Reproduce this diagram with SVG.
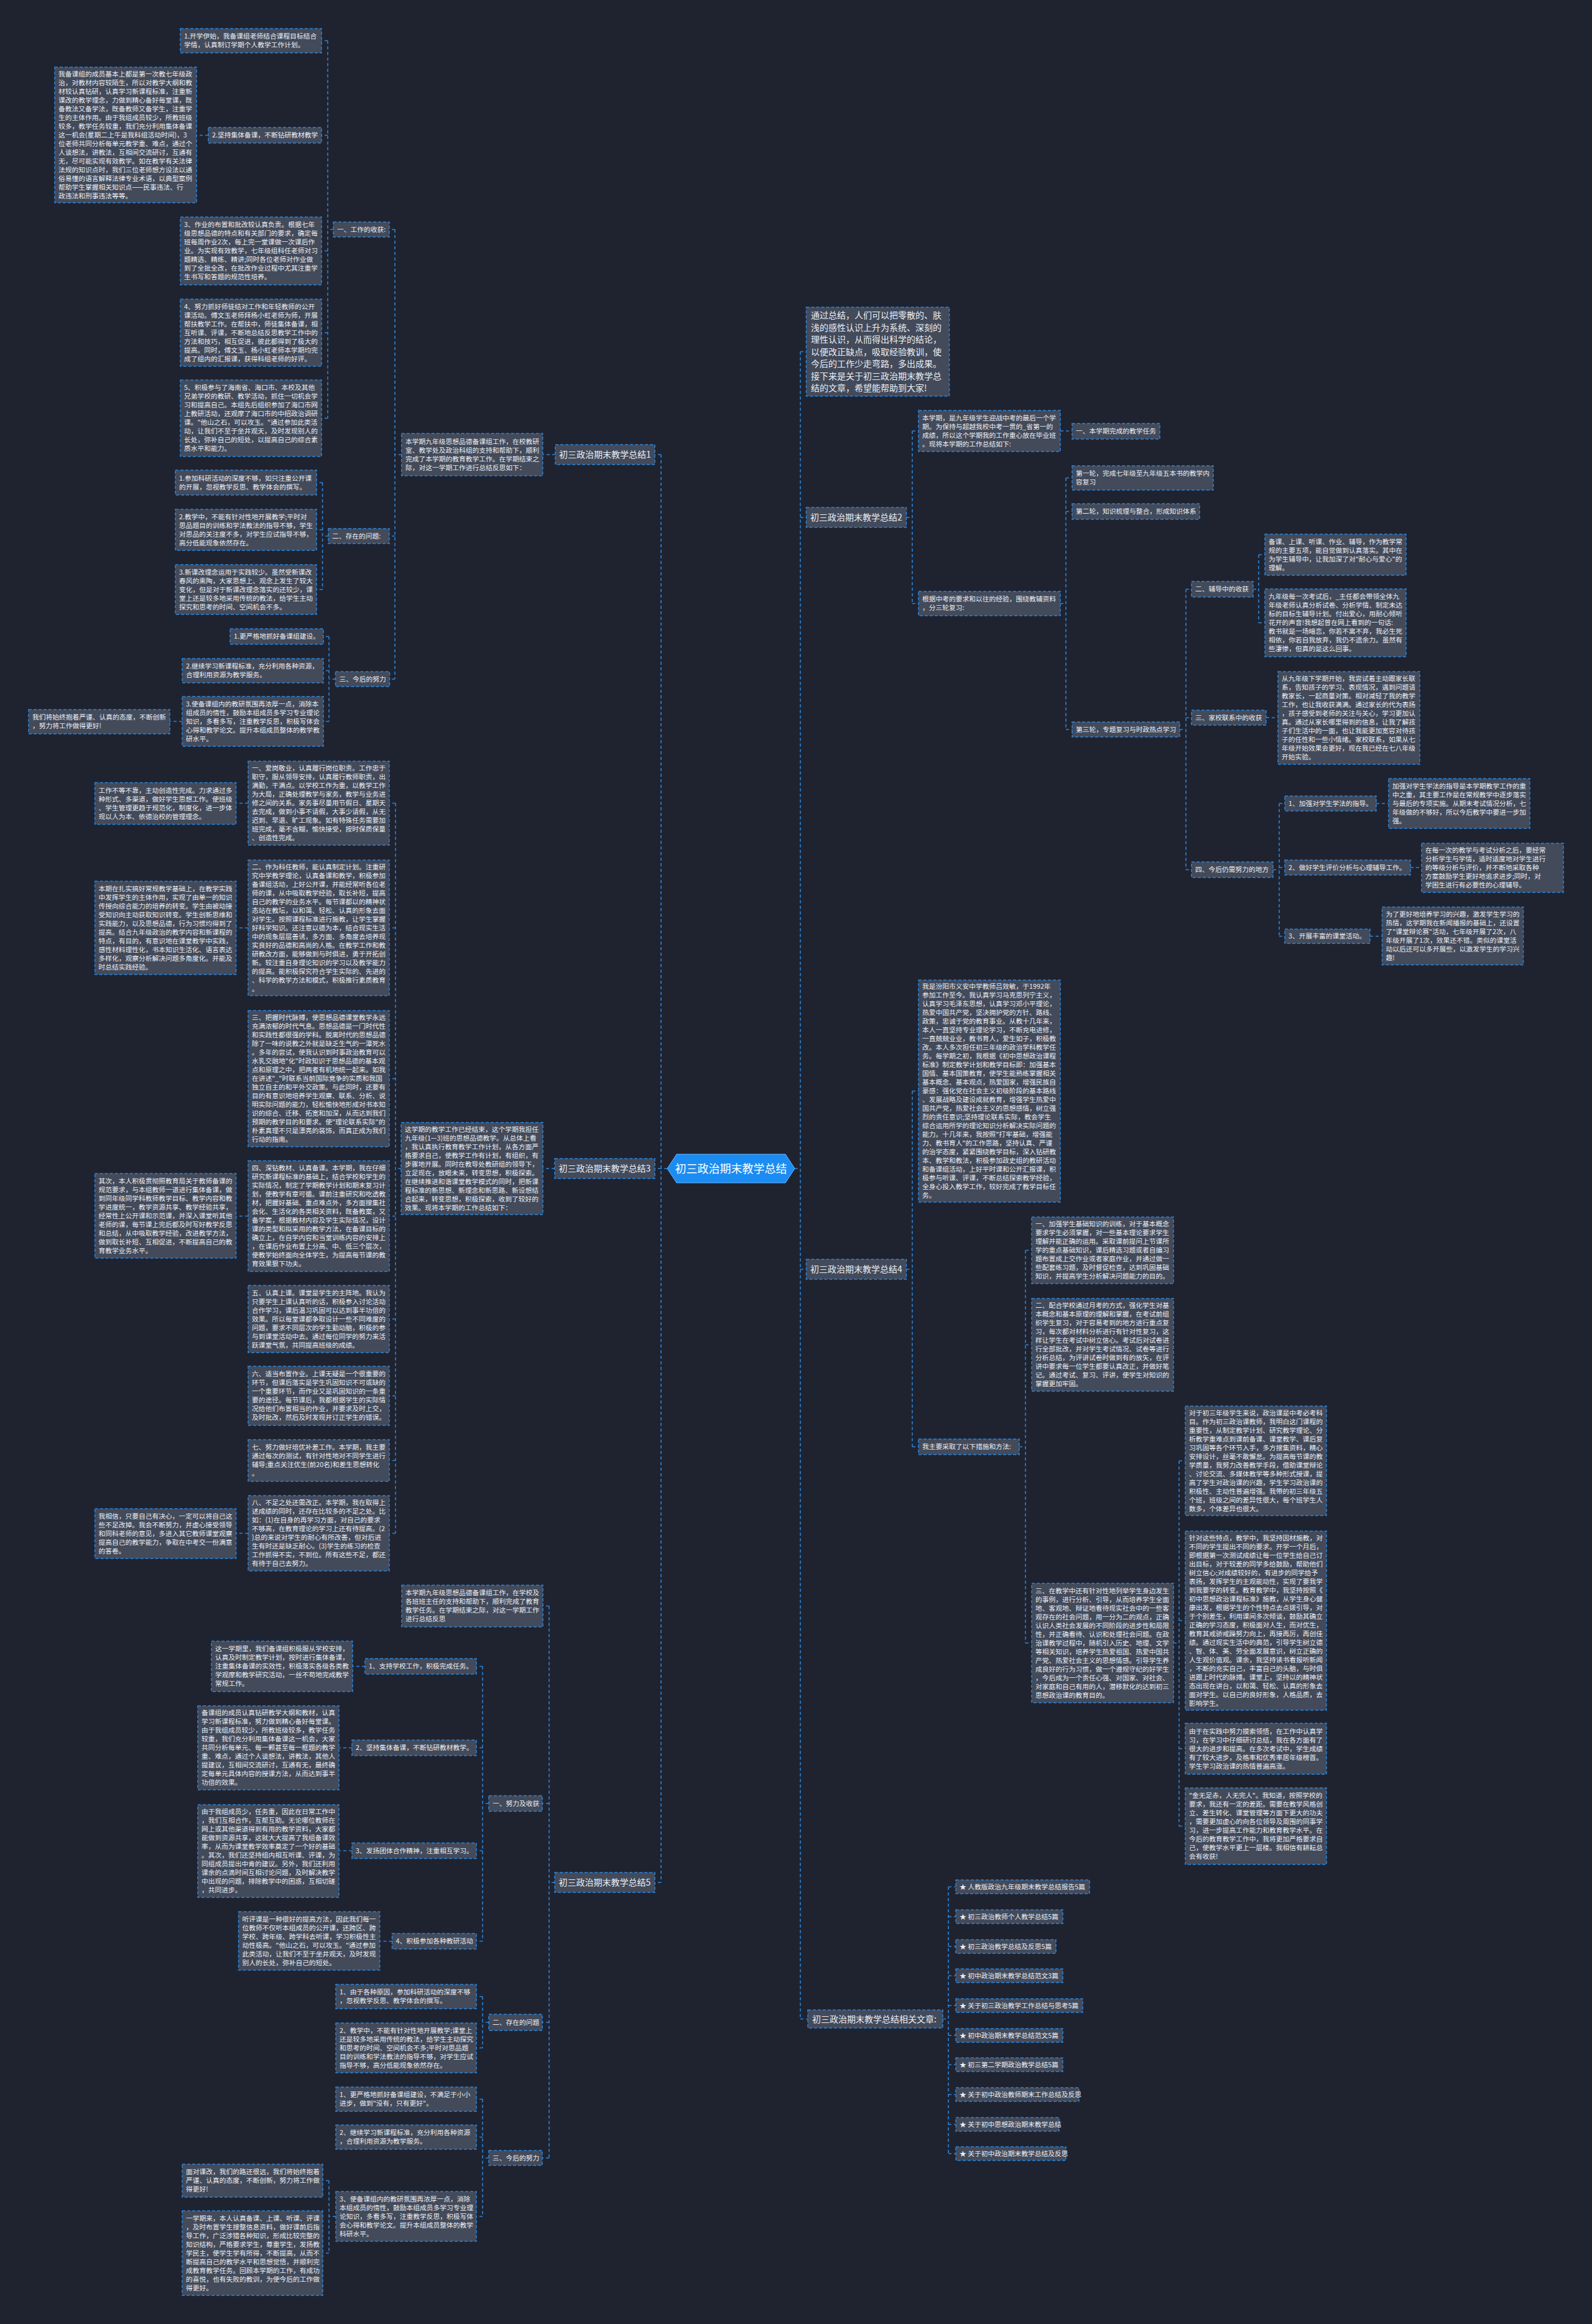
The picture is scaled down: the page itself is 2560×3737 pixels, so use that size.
<svg xmlns="http://www.w3.org/2000/svg" width="2560" height="3737" viewBox="0 0 2560 3737">
<style>
.bg{fill:#1f2330}
.n{fill:#434a5a;stroke:#2b84d8;stroke-width:1.5;stroke-dasharray:5 3}
.t{font-family:"Noto Sans CJK SC","Noto Sans",sans-serif;font-size:10.75px;fill:#eceff4}
.lg{font-size:14px}
.c{fill:none;stroke:#2b84d8;stroke-width:1.6;stroke-dasharray:5 4}
.root{fill:#1b8cf2;stroke:#6fb8ff;stroke-width:1}
.rt{font-family:"Noto Sans CJK SC","Noto Sans",sans-serif;font-size:18px;fill:#ffffff}
</style>
<rect class="bg" x="0" y="0" width="2560" height="3737"/>

<g id="connectors">
<path class="c" d="M1073,1879 H1063 M1063,731 V3027 M1063,731 H1053 M1063,1879 H1053 M1063,3027 H1053"/>
<path class="c" d="M893,731 H872.7"/>
<path class="c" d="M645.7,731 H635 M635,369 V1092 M635,369 H626 M635,862 H626 M635,1092 H626.5"/>
<path class="c" d="M536,369 H527 M527,65.5 V672.5 M527,65.5 H517 M527,217.5 H517 M527,403.5 H517 M527,535 H517 M527,672.5 H517"/>
<path class="c" d="M335,217.5 H316"/>
<path class="c" d="M528,862 H518.6 M518.6,776 V948 M518.6,776 H509 M518.6,852 H509 M518.6,948 H509"/>
<path class="c" d="M539.5,1092 H529 M529,1023.5 V1160 M529,1023.5 H520 M529,1078.5 H520 M529,1160 H520"/>
<path class="c" d="M293,1160 H273"/>
<path class="c" d="M892,1879 H873"/>
<path class="c" d="M645,1879 H636 M636,1291.5 V2465.5 M636,1291.5 H626 M636,1492 H626 M636,1734.5 H626 M636,1955.5 H626 M636,2121 H626 M636,2244.5 H626 M636,2348.5 H626 M636,2465.5 H626"/>
<path class="c" d="M399,1291.5 H379.6 M399,1492 H379.6 M399,1955.5 H379.6 M399,2465.5 H379.6"/>
<path class="c" d="M892,3027 H883 M883,2582.5 V3470 M883,2582.5 H873 M883,2900 H872 M883,3252 H872 M883,3470 H872"/>
<path class="c" d="M786,2900 H776 M776,2679.5 V3121.5 M776,2679.5 H766 M776,2810.5 H766 M776,2976 H766 M776,3121.5 H766"/>
<path class="c" d="M587,2679.5 H567 M566,2810.5 H545 M566,2976 H545 M630.5,3121.5 H610.6"/>
<path class="c" d="M786,3252 H776 M776,3210.5 V3293 M776,3210.5 H766 M776,3293 H766"/>
<path class="c" d="M786,3470 H776 M776,3375.5 V3564 M776,3375.5 H766 M776,3436.5 H766 M776,3564 H766"/>
<path class="c" d="M540,3564 H529 M529,3506.5 V3623 M529,3506.5 H519 M529,3623 H519"/>
<path class="c" d="M1278,1879 H1287 M1287,565.5 V3246.5 M1287,565.5 H1296.5 M1287,832 H1296.5 M1287,2041 H1296.5 M1287,3246.5 H1299"/>
<path class="c" d="M1457.5,832 H1467 M1467,693 V970.5 M1467,693 H1477 M1467,970.5 H1477"/>
<path class="c" d="M1705,693 H1724"/>
<path class="c" d="M1705,970.5 H1714 M1714,768.5 V1173 M1714,768.5 H1724 M1714,822.5 H1724 M1714,1173 H1724"/>
<path class="c" d="M1897,1173 H1907 M1907,947.5 V1398.5 M1907,947.5 H1916 M1907,1154 H1916 M1907,1398.5 H1916"/>
<path class="c" d="M2015,947.5 H2024 M2024,892 V1001.5 M2024,892 H2034 M2024,1001.5 H2034"/>
<path class="c" d="M2036,1154 H2055"/>
<path class="c" d="M2047,1398.5 H2057 M2057,1292 V1505.5 M2057,1292 H2066 M2057,1395 H2066 M2057,1505.5 H2066"/>
<path class="c" d="M2213,1292 H2233 M2268,1395 H2286 M2203,1505.5 H2222.5"/>
<path class="c" d="M1457.5,2041 H1467 M1467,1754.5 V2326.5 M1467,1754.5 H1477 M1467,2326.5 H1477"/>
<path class="c" d="M1639,2326.5 H1649 M1649,2010.5 V2642 M1649,2010.5 H1659 M1649,2162.5 H1659 M1649,2642 H1659"/>
<path class="c" d="M1887,2642 H1896 M1896,2349 V2936.5 M1896,2349 H1906 M1896,2606 H1906 M1896,2812 H1906 M1896,2936.5 H1906"/>
<path class="c" d="M1516,3246.5 H1525 M1525,3034 V3463 M1525,3034 H1537 M1525,3082 H1537 M1525,3130 H1537 M1525,3177 H1537 M1525,3225 H1537 M1525,3273 H1537 M1525,3320 H1537 M1525,3368 H1537 M1525,3416 H1537 M1525,3463 H1537"/>
</g>

<g id="root">
<polygon class="root" points="1073,1879 1088,1856 1263,1856 1278,1879 1263,1902 1088,1902"/>
<text class="rt" x="1175.5" y="1885.5" text-anchor="middle">初三政治期末教学总结</text>
</g>

<!-- ===== 总结1 ===== -->
<g id="s1"><rect class="n" x="893" y="715" width="160" height="32"/><text class="t lg" x="973" y="736" text-anchor="middle">初三政治期末教学总结1</text></g>
<g id="s1-intro"><rect class="n" x="645.7" y="697" width="227" height="68"/><text class="t"><tspan x="652" y="713.8">本学期九年级思想品德备课组工作，在校教研</tspan><tspan x="652" dy="14">室、教学处及政治科组的支持和帮助下，顺利</tspan><tspan x="652" dy="14">完成了本学期的教育教学工作。在学期结束之</tspan><tspan x="652" dy="14">际，对这一学期工作进行总结反思如下：</tspan></text></g>
<g id="s1-l1"><rect class="n" x="536" y="357" width="90" height="24"/><text class="t" x="542" y="372.8">一、工作的收获:</text></g>
<g id="s1-l2"><rect class="n" x="528" y="850" width="98" height="24"/><text class="t" x="534" y="865.8">二、存在的问题:</text></g>
<g id="s1-l3"><rect class="n" x="539.5" y="1080" width="87" height="24"/><text class="t" x="545.5" y="1095.8">三、今后的努力</text></g>
<g id="s1-a1"><rect class="n" x="290" y="46" width="227" height="39"/><text class="t"><tspan x="296" y="62.3">1.开学伊始，我备课组老师结合课程目标结合</tspan><tspan x="296" dy="14">学情，认真制订学期个人教学工作计划。</tspan></text></g>
<g id="s1-a2"><rect class="n" x="335" y="205" width="182" height="25"/><text class="t" x="341" y="221.3">2.坚持集体备课，不断钻研教材教学</text></g>
<g id="s1-a2c"><rect class="n" x="88" y="108" width="228" height="218"/><text class="t"><tspan x="94" y="122.8">我备课组的成员基本上都是第一次教七年级政</tspan><tspan x="94" dy="14">治，对教材内容较陌生，所以对教学大纲和教</tspan><tspan x="94" dy="14">材较认真钻研，认真学习新课程标准，注重新</tspan><tspan x="94" dy="14">课改的教学理念，力做到精心备好每堂课，既</tspan><tspan x="94" dy="14">备教法又备学法，既备教师又备学生，注重学</tspan><tspan x="94" dy="14">生的主体作用。由于我组成员较少，所教班级</tspan><tspan x="94" dy="14">较多，教学任务较重，我们充分利用集体备课</tspan><tspan x="94" dy="14">这一机会(星期二上午是我科组活动时间)，3</tspan><tspan x="94" dy="14">位老师共同分析每单元教学重、难点，通过个</tspan><tspan x="94" dy="14">人谈想法，讲教法，互相间交流研讨，互通有</tspan><tspan x="94" dy="14">无，尽可能实现有效教学。如在教学有关法律</tspan><tspan x="94" dy="14">法规的知识点时，我们三位老师想方设法以通</tspan><tspan x="94" dy="14">俗易懂的语言解释法律专业术语，以典型案例</tspan><tspan x="94" dy="14">帮助学生掌握相关知识点——民事违法、行</tspan><tspan x="94" dy="14">政违法和刑事违法等等。</tspan></text></g>
<g id="s1-a3"><rect class="n" x="290" y="349" width="227" height="109"/><text class="t"><tspan x="296" y="365.3">3、作业的布置和批改较认真负责。根据七年</tspan><tspan x="296" dy="14">级思想品德的特点和有关部门的要求，确定每</tspan><tspan x="296" dy="14">班每周作业2次，每上完一堂课做一次课后作</tspan><tspan x="296" dy="14">业。为实现有效教学，七年级组科任老师对习</tspan><tspan x="296" dy="14">题精选、精练、精讲;同时各位老师对作业做</tspan><tspan x="296" dy="14">到了全批全改，在批改作业过程中尤其注重学</tspan><tspan x="296" dy="14">生书写和答题的规范性培养。</tspan></text></g>
<g id="s1-a4"><rect class="n" x="290" y="481" width="227" height="108"/><text class="t"><tspan x="296" y="496.8">4、努力抓好师徒结对工作和年轻教师的公开</tspan><tspan x="296" dy="14">课活动。傅文玉老师拜杨小虹老师为师，开展</tspan><tspan x="296" dy="14">帮扶教学工作。在帮扶中，师徒集体备课，相</tspan><tspan x="296" dy="14">互听课、评课，不断地总结反思教学工作中的</tspan><tspan x="296" dy="14">方法和技巧，相互促进，彼此都得到了极大的</tspan><tspan x="296" dy="14">提高。同时，傅文玉、杨小虹老师本学期均完</tspan><tspan x="296" dy="14">成了组内的汇报课，获得科组老师的好评。</tspan></text></g>
<g id="s1-a5"><rect class="n" x="290" y="611" width="227" height="123"/><text class="t"><tspan x="296" y="627.3">5、积极参与了海南省、海口市、本校及其他</tspan><tspan x="296" dy="14">兄弟学校的教研、教学活动，抓住一切机会学</tspan><tspan x="296" dy="14">习和提高自己。本组先后组织参加了海口市网</tspan><tspan x="296" dy="14">上教研活动，还观摩了海口市的中招政治调研</tspan><tspan x="296" dy="14">课。"他山之石，可以攻玉。"通过参加此类活</tspan><tspan x="296" dy="14">动，让我们不至于坐井观天，及时发现别人的</tspan><tspan x="296" dy="14">长处，弥补自己的短处，以提高自己的综合素</tspan><tspan x="296" dy="14">质水平和能力。</tspan></text></g>
<g id="s1-b1"><rect class="n" x="282" y="756" width="227" height="40"/><text class="t"><tspan x="288" y="772.8">1.参加科研活动的深度不够，如只注重公开课</tspan><tspan x="288" dy="14">的开展，忽视教学反思、教学体会的撰写。</tspan></text></g>
<g id="s1-b2"><rect class="n" x="282" y="819" width="227" height="66"/><text class="t"><tspan x="288" y="834.8">2.教学中，不能有针对性地开展教学;平时对</tspan><tspan x="288" dy="14">思品题目的训练和学法教法的指导不够，学生</tspan><tspan x="288" dy="14">对思品的关注度不多，对学生应试指导不够，</tspan><tspan x="288" dy="14">高分低能现象依然存在。</tspan></text></g>
<g id="s1-b3"><rect class="n" x="282" y="908" width="227" height="80"/><text class="t"><tspan x="288" y="923.8">3.新课改理念运用于实践较少。虽然受新课改</tspan><tspan x="288" dy="14">春风的熏陶，大家思想上、观念上发生了较大</tspan><tspan x="288" dy="14">变化，但是对于新课改理念落实的还较少，课</tspan><tspan x="288" dy="14">堂上还是较多地采用传统的教法，给学生主动</tspan><tspan x="288" dy="14">探究和思考的时间、空间机会不多。</tspan></text></g>
<g id="s1-c1"><rect class="n" x="370" y="1011" width="150" height="25"/><text class="t" x="376" y="1027.3">1.更严格地抓好备课组建设。</text></g>
<g id="s1-c2"><rect class="n" x="293" y="1059" width="227" height="39"/><text class="t"><tspan x="299" y="1075.3">2.继续学习新课程标准，充分利用各种资源，</tspan><tspan x="299" dy="14">合理利用资源为教学服务。</tspan></text></g>
<g id="s1-c3"><rect class="n" x="293" y="1120" width="227" height="80"/><text class="t"><tspan x="299" y="1135.8">3.使备课组内的教研氛围再浓厚一点，消除本</tspan><tspan x="299" dy="14">组成员的惰性，鼓励本组成员多学习专业理论</tspan><tspan x="299" dy="14">知识，多看多写，注重教学反思，积极写体会</tspan><tspan x="299" dy="14">心得和教学论文。提升本组成员整体的教学教</tspan><tspan x="299" dy="14">研水平。</tspan></text></g>
<g id="s1-c3c"><rect class="n" x="46" y="1141" width="227" height="39"/><text class="t"><tspan x="52" y="1157.3">我们将始终抱着严谨、认真的态度，不断创新</tspan><tspan x="52" dy="14">，努力将工作做得更好!</tspan></text></g>

<!-- ===== 总结3 ===== -->
<g id="s3"><rect class="n" x="892" y="1863" width="161" height="32"/><text class="t lg" x="972.5" y="1884" text-anchor="middle">初三政治期末教学总结3</text></g>
<g id="s3-intro"><rect class="n" x="645" y="1805" width="228" height="148"/><text class="t"><tspan x="651" y="1819.8">这学期的教学工作已经结束，这个学期我担任</tspan><tspan x="651" dy="14">九年级(1—3)班的思想品德教学。从总体上看</tspan><tspan x="651" dy="14">，我认真执行教育教学工作计划，从各方面严</tspan><tspan x="651" dy="14">格要求自己，使教学工作有计划，有组织，有</tspan><tspan x="651" dy="14">步骤地开展。同时在教导处教研组的领导下，</tspan><tspan x="651" dy="14">立足现在，放眼未来，转变思想，积极探索。</tspan><tspan x="651" dy="14">在继续推进和谐课堂教学模式的同时，把新课</tspan><tspan x="651" dy="14">程标准的新思想、新理念和新思路、新设想结</tspan><tspan x="651" dy="14">合起来，转变思想，积极探索，收到了较好的</tspan><tspan x="651" dy="14">效果。现将本学期的工作总结如下：</tspan></text></g>
<g id="s3-d1"><rect class="n" x="399" y="1224" width="227" height="135"/><text class="t"><tspan x="405" y="1239.3">一、爱岗敬业，认真履行岗位职责。工作忠于</tspan><tspan x="405" dy="14">职守，服从领导安排，认真履行教师职责，出</tspan><tspan x="405" dy="14">满勤，干满点。以学校工作为重，以教学工作</tspan><tspan x="405" dy="14">为大局，正确处理教学与家务，教学与业务进</tspan><tspan x="405" dy="14">修之间的关系。家务事尽量用节假日、星期天</tspan><tspan x="405" dy="14">去完成，做到小事不请假，大事少请假，从无</tspan><tspan x="405" dy="14">迟到、早退、旷工现象。如有特殊任务需要加</tspan><tspan x="405" dy="14">班完成，毫不含糊，愉快接受，按时保质保量</tspan><tspan x="405" dy="14">、创造性完成。</tspan></text></g>
<g id="s3-d1c"><rect class="n" x="152.6" y="1258.5" width="227" height="67"/><text class="t"><tspan x="158.6" y="1274.8">工作不等不靠，主动创造性完成。力求通过多</tspan><tspan x="158.6" dy="14">种形式、多渠道，做好学生思想工作。使班级</tspan><tspan x="158.6" dy="14">、学生管理更趋于规范化，制度化，进一步体</tspan><tspan x="158.6" dy="14">现以人为本、依德治校的管理理念。</tspan></text></g>
<g id="s3-d2"><rect class="n" x="399" y="1383" width="227" height="218"/><text class="t"><tspan x="405" y="1397.8">二、作为科任教师，能认真制定计划。注重研</tspan><tspan x="405" dy="14">究中学教学理论，认真备课和教学，积极参加</tspan><tspan x="405" dy="14">备课组活动，上好公开课，并能经常听各位老</tspan><tspan x="405" dy="14">师的课，从中吸取教学经验，取长补短，提高</tspan><tspan x="405" dy="14">自己的教学的业务水平。每节课都以的精神状</tspan><tspan x="405" dy="14">态站在教坛，以和蔼、轻松、认真的形象去面</tspan><tspan x="405" dy="14">对学生。按照课程标准进行施教，让学生掌握</tspan><tspan x="405" dy="14">好科学知识。还注意以德为本，结合现实生活</tspan><tspan x="405" dy="14">中的现象层层善诱，多方面、多角度去培养现</tspan><tspan x="405" dy="14">实良好的品德和高尚的人格。在教学工作和教</tspan><tspan x="405" dy="14">研教改方面，能够做到与时俱进，勇于开拓创</tspan><tspan x="405" dy="14">新。较注重自身理论知识的学习以及教学能力</tspan><tspan x="405" dy="14">的提高。能积极探究符合学生实际的、先进的</tspan><tspan x="405" dy="14">、科学的教学方法和模式，积极推行素质教育</tspan><tspan x="405" dy="14">。</tspan></text></g>
<g id="s3-d2c"><rect class="n" x="152.6" y="1417" width="227" height="150"/><text class="t"><tspan x="158.6" y="1432.8">本期在扎实搞好常规教学基础上，在教学实践</tspan><tspan x="158.6" dy="14">中发挥学生的主体作用，实现了由单一的知识</tspan><tspan x="158.6" dy="14">传授向综合能力的培养的转变。学生由被动接</tspan><tspan x="158.6" dy="14">受知识向主动获取知识转变。学生创新思维和</tspan><tspan x="158.6" dy="14">实践能力，以及思想品德，行为习惯均得到了</tspan><tspan x="158.6" dy="14">提高。结合九年级政治的教学内容和新课程的</tspan><tspan x="158.6" dy="14">特点，有目的，有意识地在课堂教学中实践，</tspan><tspan x="158.6" dy="14">感性材料理性化，书本知识生活化、语言表达</tspan><tspan x="158.6" dy="14">多样化，观察分析解决问题多角度化。并能及</tspan><tspan x="158.6" dy="14">时总结实践经验。</tspan></text></g>
<g id="s3-d3"><rect class="n" x="399" y="1625" width="227" height="219"/><text class="t"><tspan x="405" y="1640.3">三、把握时代脉搏，使思想品德课堂教学永远</tspan><tspan x="405" dy="14">充满浓郁的时代气息。思想品德是一门时代性</tspan><tspan x="405" dy="14">和实践性都很强的学科。脱离时代的思想品德</tspan><tspan x="405" dy="14">除了一味的说教之外就是缺乏生气的一潭死水</tspan><tspan x="405" dy="14">。多年的尝试，使我认识到时事政治教育可以</tspan><tspan x="405" dy="14">水乳交融地"化"时政知识于思想品德的基本观</tspan><tspan x="405" dy="14">点和原理之中，把两者有机地统一起来。如我</tspan><tspan x="405" dy="14">在讲述"_"时联系当前国际竞争的实质和我国</tspan><tspan x="405" dy="14">独立自主的和平外交政策。与此同时，还要有</tspan><tspan x="405" dy="14">目的有意识地培养学生观察、联系、分析、说</tspan><tspan x="405" dy="14">明实际问题的能力，轻松愉快地形成对书本知</tspan><tspan x="405" dy="14">识的综合、迁移、拓宽和加深，从而达到我们</tspan><tspan x="405" dy="14">预期的教学目的和要求。使"理论联系实际"的</tspan><tspan x="405" dy="14">朴素真理不只是漂亮的装饰，而真正成为我们</tspan><tspan x="405" dy="14">行动的指南。</tspan></text></g>
<g id="s3-d4"><rect class="n" x="399" y="1866.5" width="227" height="178"/><text class="t"><tspan x="405" y="1882.3">四、深钻教材、认真备课。本学期，我在仔细</tspan><tspan x="405" dy="14">研究新课程标准的基础上，结合学校和学生的</tspan><tspan x="405" dy="14">实际情况，制定了学期教学计划和期末复习计</tspan><tspan x="405" dy="14">划，使教学有章可循。课前注重研究和吃透教</tspan><tspan x="405" dy="14">材，把握好基础、重点难点外，多方面搜集社</tspan><tspan x="405" dy="14">会化、生活化的各类相关资料，既备教案，又</tspan><tspan x="405" dy="14">备学案，根据教材内容及学生实际情况，设计</tspan><tspan x="405" dy="14">课的类型和拟采用的教学方法，在备课目标的</tspan><tspan x="405" dy="14">确立上，在自学内容和当堂训练内容的安排上</tspan><tspan x="405" dy="14">，在课后作业布置上分高、中、低三个层次，</tspan><tspan x="405" dy="14">使教学始终面向全体学生，为提高每节课的教</tspan><tspan x="405" dy="14">育效果狠下功夫。</tspan></text></g>
<g id="s3-d4c"><rect class="n" x="152.6" y="1887" width="227" height="136"/><text class="t"><tspan x="158.6" y="1902.8">其次，本人积极贯彻照教育局关于教师备课的</tspan><tspan x="158.6" dy="14">规范要求，与本组教师一道进行集体备课，做</tspan><tspan x="158.6" dy="14">到同年级同学科教师教学目标、教学内容和教</tspan><tspan x="158.6" dy="14">学进度统一，教学资源共享、教学经验共享，</tspan><tspan x="158.6" dy="14">经常性上公开课和示范课，并深入课堂听其他</tspan><tspan x="158.6" dy="14">老师的课，每节课上完后都及时写好教学反思</tspan><tspan x="158.6" dy="14">和总结，从中吸取教学经验，改进教学方法，</tspan><tspan x="158.6" dy="14">做到取长补短、互相促进，不断提高自己的教</tspan><tspan x="158.6" dy="14">育教学业务水平。</tspan></text></g>
<g id="s3-d5"><rect class="n" x="399" y="2067" width="227" height="108"/><text class="t"><tspan x="405" y="2082.8">五、认真上课。课堂是学生的主阵地。我认为</tspan><tspan x="405" dy="14">只要学生上课认真听的话，积极参入讨论活动</tspan><tspan x="405" dy="14">合作学习，课后温习巩固可以达到事半功倍的</tspan><tspan x="405" dy="14">效果。所以每堂课都争取设计一些不同难度的</tspan><tspan x="405" dy="14">问题，要求不同层次的学生勤动脑，积极的参</tspan><tspan x="405" dy="14">与到课堂活动中去。通过每位同学的努力来活</tspan><tspan x="405" dy="14">跃课堂气氛，共同提高班级的成绩。</tspan></text></g>
<g id="s3-d6"><rect class="n" x="399" y="2197" width="227" height="95"/><text class="t"><tspan x="405" y="2213.3">六、适当布置作业。上课无疑是一个很重要的</tspan><tspan x="405" dy="14">环节，但课后落实是学生巩固知识不可或缺的</tspan><tspan x="405" dy="14">一个重要环节，而作业又是巩固知识的一条重</tspan><tspan x="405" dy="14">要的途径。每节课后，我都根据学生的实际情</tspan><tspan x="405" dy="14">况给他们布置相当的作业，并要求及时上交，</tspan><tspan x="405" dy="14">及时批改，然后及时发现并订正学生的错误。</tspan></text></g>
<g id="s3-d7"><rect class="n" x="399" y="2315" width="227" height="67"/><text class="t"><tspan x="405" y="2331.3">七、努力做好培优补差工作。本学期，我主要</tspan><tspan x="405" dy="14">通过每次的测试，有针对性地对不同学生进行</tspan><tspan x="405" dy="14">辅导;重点关注优生(前20名)和差生思想转化</tspan><tspan x="405" dy="14">。</tspan></text></g>
<g id="s3-d8"><rect class="n" x="399" y="2405" width="227" height="121"/><text class="t"><tspan x="405" y="2420.3">八、不足之处还需改正。本学期，我在取得上</tspan><tspan x="405" dy="14">述成绩的同时，还存在比较多的不足之处。比</tspan><tspan x="405" dy="14">如：(1)在自身的再学习方面，对自己的要求</tspan><tspan x="405" dy="14">不够高，在教育理论的学习上还有待提高。(2</tspan><tspan x="405" dy="14">)总的来说对学生的耐心有所改善，但对后进</tspan><tspan x="405" dy="14">生有时还是缺乏耐心。(3)学生的练习的检查</tspan><tspan x="405" dy="14">工作抓得不实，不到位。所有这些不足，都还</tspan><tspan x="405" dy="14">有待于自己去努力。</tspan></text></g>
<g id="s3-d8c"><rect class="n" x="152.6" y="2426" width="227" height="80"/><text class="t"><tspan x="158.6" y="2441.8">我相信，只要自己有决心，一定可以将自己这</tspan><tspan x="158.6" dy="14">些不足改掉。我会不断努力，并虚心接受领导</tspan><tspan x="158.6" dy="14">和同科老师的意见，多进入其它教师课堂观察</tspan><tspan x="158.6" dy="14">提高自己的教学能力，争取在中考交一份满意</tspan><tspan x="158.6" dy="14">的答卷。</tspan></text></g>

<!-- ===== 总结5 ===== -->
<g id="s5"><rect class="n" x="892" y="3011" width="161" height="32"/><text class="t lg" x="972.5" y="3032" text-anchor="middle">初三政治期末教学总结5</text></g>
<g id="s5-intro"><rect class="n" x="646" y="2549" width="227" height="67"/><text class="t"><tspan x="652" y="2565.3">本学期九年级思想品德备课组工作，在学校及</tspan><tspan x="652" dy="14">各班班主任的支持和帮助下，顺利完成了教育</tspan><tspan x="652" dy="14">教学任务。在学期结束之际，对这一学期工作</tspan><tspan x="652" dy="14">进行总结反思</tspan></text></g>
<g id="s5-l1"><rect class="n" x="786" y="2887.5" width="86" height="25"/><text class="t" x="792" y="2904.3">一、努力及收获</text></g>
<g id="s5-e1"><rect class="n" x="587" y="2667" width="179" height="25"/><text class="t" x="593" y="2683.3">1、支持学校工作，积极完成任务。</text></g>
<g id="s5-e1c"><rect class="n" x="340" y="2639" width="227" height="81"/><text class="t"><tspan x="346" y="2655.3">这一学期里，我们备课组积极服从学校安排，</tspan><tspan x="346" dy="14">认真及时制定教学计划，按时进行集体备课，</tspan><tspan x="346" dy="14">注重集体备课的实效性，积极落实各级各类教</tspan><tspan x="346" dy="14">学观摩和教学研究活动，一丝不苟地完成教学</tspan><tspan x="346" dy="14">常规工作。</tspan></text></g>
<g id="s5-e2"><rect class="n" x="566" y="2798" width="200" height="25"/><text class="t" x="572" y="2814.3">2、坚持集体备课，不断钻研教材教学。</text></g>
<g id="s5-e2c"><rect class="n" x="318" y="2743" width="227" height="135"/><text class="t"><tspan x="324" y="2758.3">备课组的成员认真钻研教学大纲和教材，认真</tspan><tspan x="324" dy="14">学习新课程标准，努力做到精心备好每堂课。</tspan><tspan x="324" dy="14">由于我组成员较少，所教班级较多，教学任务</tspan><tspan x="324" dy="14">较重，我们充分利用集体备课这一机会，大家</tspan><tspan x="324" dy="14">共同分析每单元、每一颗甚至每一框题的教学</tspan><tspan x="324" dy="14">重、难点，通过个人谈想法，讲教法，其他人</tspan><tspan x="324" dy="14">提建议，互相间交流研讨，互通有无，最终确</tspan><tspan x="324" dy="14">定每单元具体内容的授课方法，从而达到事半</tspan><tspan x="324" dy="14">功倍的效果。</tspan></text></g>
<g id="s5-e3"><rect class="n" x="566" y="2963.5" width="200" height="25"/><text class="t" x="572" y="2979.8">3、发扬团体合作精神，注重相互学习。</text></g>
<g id="s5-e3c"><rect class="n" x="318" y="2902" width="227" height="149"/><text class="t"><tspan x="324" y="2917.3">由于我组成员少，任务重，因此在日常工作中</tspan><tspan x="324" dy="14">，我们互相合作，互帮互助。无论哪位教师在</tspan><tspan x="324" dy="14">网上或其他渠道得到有用的教学资料，大家都</tspan><tspan x="324" dy="14">能做到资源共享，这就大大提高了我组备课效</tspan><tspan x="324" dy="14">率，从而为课堂教学效率奠定了一个好的基础</tspan><tspan x="324" dy="14">。其次，我们还坚持组内相互听课、评课，为</tspan><tspan x="324" dy="14">同组成员提出中肯的建议。另外，我们还利用</tspan><tspan x="324" dy="14">课余的点滴时间互相讨论问题，及时解决教学</tspan><tspan x="324" dy="14">中出现的问题，排除教学中的困惑，互相切磋</tspan><tspan x="324" dy="14">，共同进步。</tspan></text></g>
<g id="s5-e4"><rect class="n" x="630.5" y="3109" width="135.5" height="25"/><text class="t" x="636.5" y="3125.3">4、积极参加各种教研活动</text></g>
<g id="s5-e4c"><rect class="n" x="383.6" y="3074" width="227" height="94"/><text class="t"><tspan x="389.6" y="3089.8">听评课是一种很好的提高方法，因此我们每一</tspan><tspan x="389.6" dy="14">位教师不仅听本组成员的公开课，还跨区、跨</tspan><tspan x="389.6" dy="14">学校、跨年级、跨学科去听课，学习积极性主</tspan><tspan x="389.6" dy="14">动性极高。"他山之石，可以攻玉。"通过参加</tspan><tspan x="389.6" dy="14">此类活动，让我们不至于坐井观天，及时发现</tspan><tspan x="389.6" dy="14">别人的长处，弥补自己的短处。</tspan></text></g>
<g id="s5-l2"><rect class="n" x="786" y="3239" width="86" height="26"/><text class="t" x="792" y="3255.8">二、存在的问题</text></g>
<g id="s5-f1"><rect class="n" x="540" y="3191" width="226" height="39"/><text class="t"><tspan x="546" y="3207.3">1、由于各种原因，参加科研活动的深度不够</tspan><tspan x="546" dy="14">，忽视教学反思、教学体会的撰写。</tspan></text></g>
<g id="s5-f2"><rect class="n" x="540" y="3253" width="226" height="80"/><text class="t"><tspan x="546" y="3268.8">2、教学中，不能有针对性地开展教学;课堂上</tspan><tspan x="546" dy="14">还是较多地采用传统的教法，给学生主动探究</tspan><tspan x="546" dy="14">和思考的时间、空间机会不多;平时对思品题</tspan><tspan x="546" dy="14">目的训练和学法教法的指导不够，对学生应试</tspan><tspan x="546" dy="14">指导不够，高分低能现象依然存在。</tspan></text></g>
<g id="s5-l3"><rect class="n" x="786" y="3458" width="86" height="24"/><text class="t" x="792" y="3473.8">三、今后的努力</text></g>
<g id="s5-g1"><rect class="n" x="540" y="3356" width="226" height="39"/><text class="t"><tspan x="546" y="3372.3">1、更严格地抓好备课组建设，不满足于小小</tspan><tspan x="546" dy="14">进步，做到"没有，只有更好"。</tspan></text></g>
<g id="s5-g2"><rect class="n" x="540" y="3417" width="226" height="39"/><text class="t"><tspan x="546" y="3433.3">2、继续学习新课程标准，充分利用各种资源</tspan><tspan x="546" dy="14">，合理利用资源为教学服务。</tspan></text></g>
<g id="s5-g3"><rect class="n" x="540" y="3524" width="226" height="80"/><text class="t"><tspan x="546" y="3539.8">3、使备课组内的教研氛围再浓厚一点，消除</tspan><tspan x="546" dy="14">本组成员的惰性，鼓励本组成员多学习专业理</tspan><tspan x="546" dy="14">论知识，多看多写，注重教学反思，积极写体</tspan><tspan x="546" dy="14">会心得和教学论文。提升本组成员整体的教学</tspan><tspan x="546" dy="14">科研水平。</tspan></text></g>
<g id="s5-g3a"><rect class="n" x="293" y="3480" width="226" height="53"/><text class="t"><tspan x="299" y="3496.3">面对课改，我们的路还很远，我们将始终抱着</tspan><tspan x="299" dy="14">严谨、认真的态度，不断创新，努力将工作做</tspan><tspan x="299" dy="14">得更好!</tspan></text></g>
<g id="s5-g3b"><rect class="n" x="293" y="3555" width="226" height="136"/><text class="t"><tspan x="299" y="3570.8">一学期来，本人认真备课、上课、听课、评课</tspan><tspan x="299" dy="14">，及时布置学生搜整信息资料，做好课前后指</tspan><tspan x="299" dy="14">导工作，广泛涉猎各种知识，形成比较完整的</tspan><tspan x="299" dy="14">知识结构，严格要求学生，尊重学生，发扬教</tspan><tspan x="299" dy="14">学民主，使学生学有所得，不断提高，从而不</tspan><tspan x="299" dy="14">断提高自己的教学水平和思想觉悟，并顺利完</tspan><tspan x="299" dy="14">成教育教学任务。回顾本学期的工作，有成功</tspan><tspan x="299" dy="14">的喜悦，也有失败的教训，为使今后的工作做</tspan><tspan x="299" dy="14">得更好。</tspan></text></g>

<!-- ===== 右侧 ===== -->
<g id="intro"><rect class="n" x="1296.5" y="494" width="230" height="143"/><text class="t lg"><tspan x="1304" y="512">通过总结，人们可以把零散的、肤</tspan><tspan x="1304" dy="19.5">浅的感性认识上升为系统、深刻的</tspan><tspan x="1304" dy="19.5">理性认识，从而得出科学的结论，</tspan><tspan x="1304" dy="19.5">以便改正缺点，吸取经验教训，使</tspan><tspan x="1304" dy="19.5">今后的工作少走弯路，多出成果。</tspan><tspan x="1304" dy="19.5">接下来是关于初三政治期末教学总</tspan><tspan x="1304" dy="19.5">结的文章，希望能帮助到大家!</tspan></text></g>

<g id="s2"><rect class="n" x="1296.5" y="816" width="161" height="32"/><text class="t lg" x="1377" y="837" text-anchor="middle">初三政治期末教学总结2</text></g>
<g id="s2-h1"><rect class="n" x="1477" y="660" width="228" height="66"/><text class="t"><tspan x="1483" y="675.8">本学期，是九年级学生迎战中考的最后一个学</tspan><tspan x="1483" dy="14">期。为保持与超越我校中考一贯的_省第一的</tspan><tspan x="1483" dy="14">成绩，所以这个学期我的工作重心放在毕业班</tspan><tspan x="1483" dy="14">。现将本学期的工作总结如下:</tspan></text></g>
<g id="s2-h1c"><rect class="n" x="1724" y="681" width="141" height="25"/><text class="t" x="1730" y="697.3">一、本学期完成的教学任务</text></g>
<g id="s2-h2"><rect class="n" x="1477" y="951" width="228" height="39"/><text class="t"><tspan x="1483" y="967.3">根据中考的要求和以往的经验，围绕教辅资料</tspan><tspan x="1483" dy="14">，分三轮复习:</tspan></text></g>
<g id="s2-k1"><rect class="n" x="1724" y="749" width="227" height="39"/><text class="t"><tspan x="1730" y="765.3">第一轮，完成七年级至九年级五本书的教学内</tspan><tspan x="1730" dy="14">容复习</tspan></text></g>
<g id="s2-k2"><rect class="n" x="1724" y="810" width="205" height="25"/><text class="t" x="1730" y="826.3">第二轮，知识梳理与整合，形成知识体系</text></g>
<g id="s2-k3"><rect class="n" x="1724" y="1161" width="173" height="24"/><text class="t" x="1730" y="1176.8">第三轮，专题复习与时政热点学习</text></g>
<g id="s2-m1"><rect class="n" x="1916" y="935" width="99" height="25"/><text class="t" x="1922" y="951.3">二、辅导中的收获</text></g>
<g id="s2-m1a"><rect class="n" x="2034" y="859" width="227" height="66"/><text class="t"><tspan x="2040" y="874.8">备课、上课、听课、作业、辅导，作为教学常</tspan><tspan x="2040" dy="14">规的主要五项，能自觉做到认真落实。其中在</tspan><tspan x="2040" dy="14">为学生辅导中，让我加深了对"耐心与爱心"的</tspan><tspan x="2040" dy="14">理解。</tspan></text></g>
<g id="s2-m1b"><rect class="n" x="2034" y="947" width="227" height="109"/><text class="t"><tspan x="2040" y="963.3">九年级每一次考试后，_主任都会带领全体九</tspan><tspan x="2040" dy="14">年级老师认真分析试卷、分析学情、制定未达</tspan><tspan x="2040" dy="14">标的目标生辅导计划。付出爱心，用耐心倾听</tspan><tspan x="2040" dy="14">花开的声音!我想起曾在网上看到的一句话:</tspan><tspan x="2040" dy="14">教书就是一场暗恋，你若不离不弃，我必生死</tspan><tspan x="2040" dy="14">相依，你若自我放弃，我仍不遗余力。虽然有</tspan><tspan x="2040" dy="14">些凄惨，但真的是这么回事。</tspan></text></g>
<g id="s2-m2"><rect class="n" x="1916" y="1142" width="120" height="24"/><text class="t" x="1922" y="1157.8">三、家校联系中的收获</text></g>
<g id="s2-m2c"><rect class="n" x="2055" y="1080" width="228" height="149"/><text class="t"><tspan x="2061" y="1095.3">从九年级下学期开始，我尝试着主动跟家长联</tspan><tspan x="2061" dy="14">系，告知孩子的学习、表现情况，遇到问题请</tspan><tspan x="2061" dy="14">教家长，一起商量对策。相对减轻了我的教学</tspan><tspan x="2061" dy="14">工作，也让我收获满满。通过家长的代为表扬</tspan><tspan x="2061" dy="14">，孩子感受到老师的关注与关心，学习更加认</tspan><tspan x="2061" dy="14">真。通过从家长哪里得到的信息，让我了解孩</tspan><tspan x="2061" dy="14">子们生活中的一面，也让我能更加宽容对待孩</tspan><tspan x="2061" dy="14">子的任性和一些小情绪。家校联系，如果从七</tspan><tspan x="2061" dy="14">年级开始效果会更好，现在我已经在七八年级</tspan><tspan x="2061" dy="14">开始实验。</tspan></text></g>
<g id="s2-m3"><rect class="n" x="1916" y="1386" width="131" height="25"/><text class="t" x="1922" y="1402.3">四、今后仍需努力的地方</text></g>
<g id="s2-p1"><rect class="n" x="2066" y="1280" width="147" height="24"/><text class="t" x="2072" y="1295.8">1、加强对学生学法的指导。</text></g>
<g id="s2-p1c"><rect class="n" x="2233" y="1252" width="227" height="80"/><text class="t"><tspan x="2239" y="1267.8">加强对学生学法的指导是本学期教学工作的重</tspan><tspan x="2239" dy="14">中之重，其主要工作是在常规教学中逐步落实</tspan><tspan x="2239" dy="14">与最后的专项实施。从期末考试情况分析，七</tspan><tspan x="2239" dy="14">年级做的不够好，所以今后教学中要进一步加</tspan><tspan x="2239" dy="14">强。</tspan></text></g>
<g id="s2-p2"><rect class="n" x="2066" y="1383" width="202" height="24"/><text class="t" x="2072" y="1398.8">2、做好学生评价分析与心理辅导工作。</text></g>
<g id="s2-p2c"><rect class="n" x="2286" y="1356" width="228" height="79"/><text class="t"><tspan x="2292" y="1371.3">在每一次的教学与考试分析之后，要经常</tspan><tspan x="2292" dy="14">分析学生与学情，适时适度地对学生进行</tspan><tspan x="2292" dy="14">的等级分析与评价，并不断地采取各种</tspan><tspan x="2292" dy="14">方案鼓励学生更好地追求进步;同时，对</tspan><tspan x="2292" dy="14">学困生进行有必要性的心理辅导。</tspan></text></g>
<g id="s2-p3"><rect class="n" x="2066" y="1494" width="137" height="23"/><text class="t" x="2072" y="1509.3">3、开展丰富的课堂活动。</text></g>
<g id="s2-p3c"><rect class="n" x="2222.5" y="1458.5" width="227" height="93"/><text class="t"><tspan x="2228.5" y="1473.8">为了更好地培养学习的兴趣，激发学生学习的</tspan><tspan x="2228.5" dy="14">热情，这学期我在新闻播报的基础上，还设置</tspan><tspan x="2228.5" dy="14">了"课堂辩论赛"活动，七年级开展了2次，八</tspan><tspan x="2228.5" dy="14">年级开展了1次，效果还不错。类似的课堂活</tspan><tspan x="2228.5" dy="14">动以后还可以多开展些，以激发学生的学习兴</tspan><tspan x="2228.5" dy="14">趣!</tspan></text></g>

<g id="s4"><rect class="n" x="1296.5" y="2025" width="161" height="32"/><text class="t lg" x="1377" y="2046" text-anchor="middle">初三政治期末教学总结4</text></g>
<g id="s4-q0"><rect class="n" x="1477" y="1576" width="228" height="357"/><text class="t"><tspan x="1483" y="1590.3">我是汾阳市义安中学教师吕效敏，于1992年</tspan><tspan x="1483" dy="14">参加工作至今。我认真学习马克思列宁主义，</tspan><tspan x="1483" dy="14">认真学习毛泽东思想，认真学习邓小平理论，</tspan><tspan x="1483" dy="14">热爱中国共产党，坚决拥护党的方针、路线、</tspan><tspan x="1483" dy="14">政策，忠诚于党的教育事业。从教十几年来，</tspan><tspan x="1483" dy="14">本人一直坚持专业理论学习，不断充电进修，</tspan><tspan x="1483" dy="14">一直兢兢业业，教书育人，爱生如子，积极教</tspan><tspan x="1483" dy="14">改。本人多次担任初三年级的政治学科教学任</tspan><tspan x="1483" dy="14">务。每学期之初，我根据《初中思想政治课程</tspan><tspan x="1483" dy="14">标准》制定教学计划和教学目标即：加强基本</tspan><tspan x="1483" dy="14">国情、基本国策教育，使学生能熟练掌握相关</tspan><tspan x="1483" dy="14">基本概念、基本观点，热爱国家，增强民族自</tspan><tspan x="1483" dy="14">豪感：强化党在社会主义初级阶段的基本路线</tspan><tspan x="1483" dy="14">、发展战略及建设成就教育，增强学生热爱中</tspan><tspan x="1483" dy="14">国共产党，热爱社会主义的思想感情，树立强</tspan><tspan x="1483" dy="14">烈的责任意识;坚持理论联系实际，教会学生</tspan><tspan x="1483" dy="14">综合运用所学的理论知识分析解决实际问题的</tspan><tspan x="1483" dy="14">能力。十几年来，我按照"打牢基础，增强能</tspan><tspan x="1483" dy="14">力、教书育人"的工作思路，坚持认真、严谨</tspan><tspan x="1483" dy="14">的治学态度，紧紧围绕教学目标，深入钻研教</tspan><tspan x="1483" dy="14">本、教学和教法，积极参加政史组的教研活动</tspan><tspan x="1483" dy="14">和备课组活动，上好平时课和公开汇报课，积</tspan><tspan x="1483" dy="14">极参与听课、评课，不断总结探索教学经验，</tspan><tspan x="1483" dy="14">全身心投入教学工作，较好完成了教学目标任</tspan><tspan x="1483" dy="14">务。</tspan></text></g>
<g id="s4-q1"><rect class="n" x="1477" y="2314" width="162" height="25"/><text class="t" x="1483" y="2330.3">我主要采取了以下措施和方法:</text></g>
<g id="s4-q1a"><rect class="n" x="1659" y="1957" width="228" height="107"/><text class="t"><tspan x="1665" y="1972.3">一、加强学生基础知识的训练，对于基本概念</tspan><tspan x="1665" dy="14">要求学生必须掌握，对一些基本理论要求学生</tspan><tspan x="1665" dy="14">理解并能正确的运用。采取课前提问上节课所</tspan><tspan x="1665" dy="14">学的重点基础知识，课后精选习题或者自编习</tspan><tspan x="1665" dy="14">题布置成上交作业或者家庭作业，并通过做一</tspan><tspan x="1665" dy="14">些配套练习题，及时督促检查，达到巩固基础</tspan><tspan x="1665" dy="14">知识，并提高学生分析解决问题能力的目的。</tspan></text></g>
<g id="s4-q1b"><rect class="n" x="1659" y="2088" width="228" height="149"/><text class="t"><tspan x="1665" y="2103.3">二、配合学校通过月考的方式，强化学生对基</tspan><tspan x="1665" dy="14">本概念和基本原理的理解和掌握，在考试前组</tspan><tspan x="1665" dy="14">织学生复习，对于容易考到的地方进行重点复</tspan><tspan x="1665" dy="14">习，每次都对材料分析进行有针对性复习，这</tspan><tspan x="1665" dy="14">样让学生在考试中树立信心。考试后对试卷进</tspan><tspan x="1665" dy="14">行全部批改，并对学生考试情况、试卷等进行</tspan><tspan x="1665" dy="14">分析总结，为评讲试卷时做到有的放矢，在评</tspan><tspan x="1665" dy="14">讲中要求每一位学生都要认真改正，并做好笔</tspan><tspan x="1665" dy="14">记。通过考试、复习、评讲，使学生对知识的</tspan><tspan x="1665" dy="14">掌握更加牢固。</tspan></text></g>
<g id="s4-q1c"><rect class="n" x="1659" y="2546" width="228" height="192"/><text class="t"><tspan x="1665" y="2561.8">三、在教学中还有针对性地列举学生身边发生</tspan><tspan x="1665" dy="14">的事例，进行分析、引导，从而培养学生全面</tspan><tspan x="1665" dy="14">地、客观地、辩证地看待现实社会中的一些客</tspan><tspan x="1665" dy="14">观存在的社会问题，用一分为二的观点，正确</tspan><tspan x="1665" dy="14">认识人类社会发展的不同阶段的进步性和局限</tspan><tspan x="1665" dy="14">性，并正确看待、认识和处理社会问题。在政</tspan><tspan x="1665" dy="14">治课教学过程中，随机引入历史、地理、文学</tspan><tspan x="1665" dy="14">等相关知识，培养学生热爱祖国、热爱中国共</tspan><tspan x="1665" dy="14">产党、热爱社会主义的思想情感。引导学生养</tspan><tspan x="1665" dy="14">成良好的行为习惯，做一个遵规守纪的好学生</tspan><tspan x="1665" dy="14">，今后成为一个责任心强、对国家、对社会、</tspan><tspan x="1665" dy="14">对家庭和自己有用的人，潜移默化的达到初三</tspan><tspan x="1665" dy="14">思想政治课的教育目的。</tspan></text></g>
<g id="s4-t1"><rect class="n" x="1906" y="2261" width="227" height="176"/><text class="t"><tspan x="1912" y="2275.8">对于初三年级学生来说，政治课是中考必考科</tspan><tspan x="1912" dy="14">目。作为初三政治课教师，我明白这门课程的</tspan><tspan x="1912" dy="14">重要性，从制定教学计划、研究教学理论、分</tspan><tspan x="1912" dy="14">析教学重难点到课前备课、课堂教学、课后复</tspan><tspan x="1912" dy="14">习巩固等各个环节入手，多方搜集资料，精心</tspan><tspan x="1912" dy="14">安排设计，丝毫不敢懈怠。为提高每节课的教</tspan><tspan x="1912" dy="14">学质量，我努力改善教学手段，借助课堂辩论</tspan><tspan x="1912" dy="14">、讨论交流、多媒体教学等多种形式授课，提</tspan><tspan x="1912" dy="14">高了学生对政治课的兴趣，学生学习政治课的</tspan><tspan x="1912" dy="14">积极性、主动性普遍增强。我带的初三年级五</tspan><tspan x="1912" dy="14">个班，班级之间的差异性很大，每个班学生人</tspan><tspan x="1912" dy="14">数多，个体差异也很大。</tspan></text></g>
<g id="s4-t2"><rect class="n" x="1906" y="2462" width="227" height="288"/><text class="t"><tspan x="1912" y="2476.8">针对这些特点，教学中，我坚持因材施教，对</tspan><tspan x="1912" dy="14">不同的学生提出不同的要求。开学一个月后，</tspan><tspan x="1912" dy="14">即根据第一次测试成绩让每一位学生给自己订</tspan><tspan x="1912" dy="14">出目标，对于较差的同学多给鼓励，帮助他们</tspan><tspan x="1912" dy="14">树立信心;对成绩较好的，有进步的同学给予</tspan><tspan x="1912" dy="14">表扬，发挥学生的主观能动性，实现了要我学</tspan><tspan x="1912" dy="14">到我要学的转变。教育教学中，我坚持按照《</tspan><tspan x="1912" dy="14">初中思想政治课程标准》施教，从学生身心健</tspan><tspan x="1912" dy="14">康出发，根据学生的个性特点去点拨引导，对</tspan><tspan x="1912" dy="14">于个别差生，利用课间多次倾谈，鼓励其确立</tspan><tspan x="1912" dy="14">正确的学习态度，积极面对人生，而对优生，</tspan><tspan x="1912" dy="14">教育其戒骄戒躁努力向上，再接再厉，再创佳</tspan><tspan x="1912" dy="14">绩。通过现实生活中的典范，引导学生树立德</tspan><tspan x="1912" dy="14">、智、体、美、劳全面发展意识，树立正确的</tspan><tspan x="1912" dy="14">人生观价值观。课余，我坚持读书看报听新闻</tspan><tspan x="1912" dy="14">，不断的充实自己，丰富自己的头脑，与时俱</tspan><tspan x="1912" dy="14">进跟上时代的脉搏。课堂上，坚持以的精神状</tspan><tspan x="1912" dy="14">态出现在讲台，以和蔼、轻松、认真的形象去</tspan><tspan x="1912" dy="14">面对学生。以自己的良好形象，人格品质，去</tspan><tspan x="1912" dy="14">影响学生。</tspan></text></g>
<g id="s4-t3"><rect class="n" x="1906" y="2771" width="227" height="82"/><text class="t"><tspan x="1912" y="2787.8">由于在实践中努力摸索领悟，在工作中认真学</tspan><tspan x="1912" dy="14">习，在学习中仔细研讨总结，我在各方面有了</tspan><tspan x="1912" dy="14">很大的进步和提高。在多次考试中，学生成绩</tspan><tspan x="1912" dy="14">有了较大进步，及格率和优秀率居年级榜首。</tspan><tspan x="1912" dy="14">学生学习政治课的热情普遍高涨。</tspan></text></g>
<g id="s4-t4"><rect class="n" x="1906" y="2875" width="227" height="123"/><text class="t"><tspan x="1912" y="2891.3">"金无足赤，人无完人"。我知道，按照学校的</tspan><tspan x="1912" dy="14">要求，我还有一定的差距。需要在教学风格创</tspan><tspan x="1912" dy="14">立、差生转化、课堂管理等方面下更大的功夫</tspan><tspan x="1912" dy="14">，需要更加虚心的向各位领导及周围的同事学</tspan><tspan x="1912" dy="14">习，进一步提高工作能力和教育教学水平。在</tspan><tspan x="1912" dy="14">今后的教育教学工作中，我将更加严格要求自</tspan><tspan x="1912" dy="14">己，使教学水平更上一层楼。我相信有耕耘总</tspan><tspan x="1912" dy="14">会有收获!</tspan></text></g>

<g id="rel"><rect class="n" x="1299" y="3232" width="217" height="29"/><text class="t lg" x="1306" y="3251.5">初三政治期末教学总结相关文章:</text></g>
<g id="rel-1"><rect class="n" x="1537" y="3023" width="215" height="22"/><text class="t" x="1543" y="3037.8">★ 人教版政治九年级期末教学总结报告5篇</text></g>
<g id="rel-2"><rect class="n" x="1537" y="3071" width="172" height="22"/><text class="t" x="1543" y="3085.8">★ 初三政治教师个人教学总结5篇</text></g>
<g id="rel-3"><rect class="n" x="1537" y="3119" width="161" height="22"/><text class="t" x="1543" y="3133.8">★ 初三政治教学总结及反思5篇</text></g>
<g id="rel-4"><rect class="n" x="1537" y="3166" width="172" height="22"/><text class="t" x="1543" y="3180.8">★ 初中政治期末教学总结范文3篇</text></g>
<g id="rel-5"><rect class="n" x="1537" y="3214" width="204" height="22"/><text class="t" x="1543" y="3228.8">★ 关于初三政治教学工作总结与思考5篇</text></g>
<g id="rel-6"><rect class="n" x="1537" y="3262" width="172" height="22"/><text class="t" x="1543" y="3276.8">★ 初中政治期末教学总结范文5篇</text></g>
<g id="rel-7"><rect class="n" x="1537" y="3309" width="172" height="22"/><text class="t" x="1543" y="3323.8">★ 初三第二学期政治教学总结5篇</text></g>
<g id="rel-8"><rect class="n" x="1537" y="3357" width="198" height="22"/><text class="t" x="1543" y="3371.8">★ 关于初中政治教师期末工作总结及反思</text></g>
<g id="rel-9"><rect class="n" x="1537" y="3405" width="166" height="22"/><text class="t" x="1543" y="3419.8">★ 关于初中思想政治期末教学总结</text></g>
<g id="rel-10"><rect class="n" x="1537" y="3452" width="177" height="22"/><text class="t" x="1543" y="3466.8">★ 关于初中政治期末教学总结及反思</text></g>
</svg>
